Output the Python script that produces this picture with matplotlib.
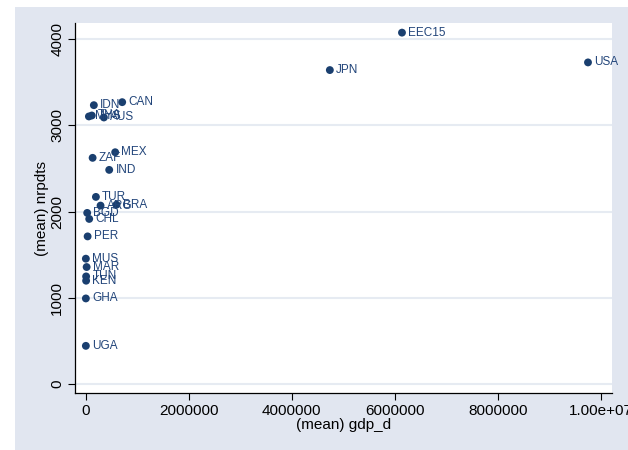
import matplotlib
matplotlib.use("Agg")
import matplotlib.pyplot as plt
from matplotlib.patches import Rectangle

plt.rcParams['font.family'] = ['Liberation Sans', 'DejaVu Sans']

# Laender (Mittelwerte)
laender = ["EEC15", "USA", "JPN", "CAN", "IDN", "MYS", "THA", "AUS", "MEX", "ZAF",
           "IND", "TUR", "ARG", "BRA", "BGD", "CHL", "PER", "MUS", "MAR", "TUN",
           "KEN", "GHA", "UGA"]
gdp_d = [6140000, 9750000, 4740000, 710000, 160000, 64000, 120000, 355000, 574000, 136000,
         458000, 200000, 290000, 600000, 31000, 70000, 39000, 5000, 20000, 10000,
         10000, 5000, 5000]
nrpdts = [4079, 3733, 3644, 3271, 3236, 3105, 3116, 3093, 2689, 2624,
          2484, 2170, 2069, 2080, 1984, 1914, 1711, 1452, 1355, 1246,
          1196, 990, 439]

xticks = [0, 2000000, 4000000, 6000000, 8000000, 10000000]
xticklabels = ["0", "2000000", "4000000", "6000000", "8000000", "1.00e+07"]
yticks = [0, 1000, 2000, 3000, 4000]

navy = "#1a3f6f"
grau = "#e1e6f0"

fig = plt.figure(figsize=(6.28, 4.5), dpi=100)
fig.patch.set_facecolor("white")
# grauer Hintergrund wie bei Stata
fig.patches.append(Rectangle((15 / 628, 0), 1 - 15 / 628, 1 - 7 / 450,
                             transform=fig.transFigure, facecolor=grau,
                             edgecolor="none", zorder=-10))

ax = fig.add_axes([75.3 / 628, 57 / 450, (611.7 - 75.3) / 628, (393 - 23) / 450])
ax.set_facecolor("white")
ax.set_xlim(-200000, 10210000)
ax.set_ylim(-109, 4191)

for y in yticks:
    ax.axhline(y, color="#e6ebf2", lw=1.5, zorder=1)

ax.scatter(gdp_d, nrpdts, s=32, color=navy, zorder=3, edgecolors="none")
for name, x, y in zip(laender, gdp_d, nrpdts):
    ax.annotate(name, (x, y), xytext=(4.5, 0), textcoords="offset points",
                va="center", ha="left", fontsize=8.5, color="#22457a", zorder=4,
                annotation_clip=False)

ax.set_xticks(xticks)
ax.set_xticklabels(xticklabels, fontsize=11)
ax.set_yticks(yticks)
ax.set_yticklabels([str(v) for v in yticks], fontsize=11, rotation=90, va="center")
ax.tick_params(length=5, width=0.8, color="black", pad=3)

ax.spines["top"].set_visible(False)
ax.spines["right"].set_visible(False)
ax.spines["left"].set_linewidth(0.9)
ax.spines["bottom"].set_linewidth(0.9)

ax.set_xlabel("(mean) gdp_d", fontsize=11, labelpad=0)
ax.set_ylabel("(mean) nrpdts", fontsize=11, labelpad=1)

fig.savefig("out.png", dpi=100, facecolor=fig.get_facecolor())
